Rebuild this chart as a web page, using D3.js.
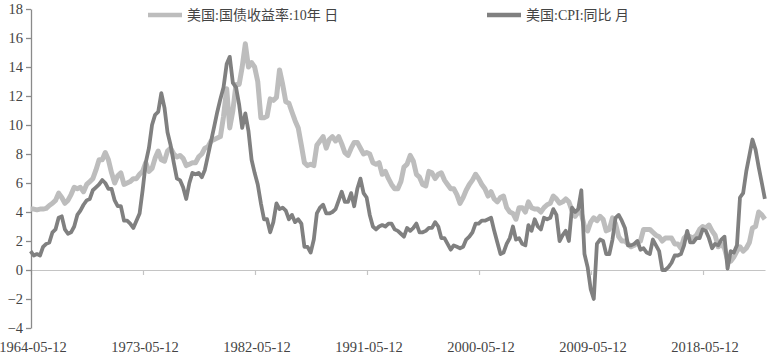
<!DOCTYPE html>
<html><head><meta charset="utf-8">
<script src="https://cdn.jsdelivr.net/npm/d3@7"></script>
<style>
html,body{margin:0;padding:0;background:#fff;}
svg{display:block;}
text{font-family:"Liberation Serif","Noto Sans CJK SC",serif;}
</style></head>
<body><svg id="c" width="776" height="357"></svg>
<script>
// ---- data ----
const seriesNames = ["美国:国债收益率:10年 日", "美国:CPI:同比 月"];
const startQuarter = "1964-05"; // quarterly observations (Feb/May/Aug/Nov)
const xTickLabels = ["1964-05-12","1973-05-12","1982-05-12","1991-05-12","2000-05-12","2009-05-12","2018-05-12"];
const yTicks = [-4,-2,0,2,4,6,8,10,12,14,16,18];

const yield10y = [
 4.2,4.2,4.15,
 4.2,4.2,4.25,4.45, 4.6,4.8,5.3,5.0, 4.6,4.8,5.2,5.7, 5.6,5.7,5.4,5.9,
 6.1,6.3,6.9,7.6, 7.6,8.1,7.6,6.7, 6.0,6.5,6.7,5.9, 6.0,6.1,6.3,6.3,
 6.6,6.8,7.4,6.8, 7.0,7.7,8.2,7.6, 7.5,8.2,8.4,8.0, 7.8,7.9,7.7,7.2,
 7.3,7.4,7.4,7.8, 8.0,8.4,8.5,8.9, 9.0,9.1,9.2,10.6, 12.5,9.8,11.0,12.8,
 12.8,14.0,15.6,14.0, 14.3,14.0,13.0,10.5, 10.5,10.6,11.8,11.7, 11.9,13.8,12.8,11.6,
 11.5,10.9,10.3,9.8, 8.6,7.4,7.2,7.3, 7.2,8.6,8.9,9.2, 8.4,9.0,9.2,8.9,
 9.2,8.7,8.1,7.9, 8.4,8.8,8.8,8.4, 8.0,8.1,8.0,7.4, 7.3,7.4,6.6,6.8,
 6.3,5.9,5.6,5.6, 6.1,7.1,7.3,7.9, 7.5,6.6,6.4,5.9, 5.8,6.8,6.7,6.3,
 6.6,6.7,6.2,5.9, 5.6,5.6,5.2,4.6, 5.0,5.5,5.9,6.2, 6.6,6.3,5.9,5.6,
 5.1,5.4,4.9,4.7, 5.0,5.1,4.3,4.0, 3.9,3.5,4.3,4.3, 4.0,4.7,4.3,4.2,
 4.2,4.0,4.3,4.5, 4.6,5.1,4.9,4.6, 4.7,4.9,4.7,4.1, 3.7,4.0,3.9,3.0,
 2.7,3.3,3.6,3.4, 3.7,3.5,2.7,2.8, 3.6,3.2,2.3,2.0, 2.0,1.8,1.6,1.7,
 1.9,2.0,2.8,2.8, 2.8,2.6,2.4,2.3, 2.0,2.2,2.2,2.2, 1.8,1.8,1.5,2.2,
 2.4,2.3,2.2,2.4, 2.8,3.0,2.9,3.1, 2.7,2.4,1.6,1.8, 1.5,0.7,0.6,0.9,
 1.3,1.6,1.3,1.5, 1.9,2.9,3.0,4.0,
 3.8,3.5
];

const cpiYoY = [
 1.3,1.0,1.1,
 1.0,1.6,1.8,1.9, 2.6,2.8,3.6,3.7, 2.8,2.5,2.6,3.0, 3.8,4.1,4.5,4.8,
 4.9,5.5,5.7,5.9, 6.2,6.0,5.6,5.6, 4.8,4.4,4.4,3.4, 3.4,3.2,2.9,3.4,
 3.9,5.5,7.4,8.4, 10.0,10.7,10.9,12.2, 11.2,9.5,8.6,7.4, 6.3,6.2,5.7,4.9,
 6.0,6.7,6.6,6.7, 6.4,6.9,7.9,8.9, 9.9,10.9,11.8,12.6, 14.2,14.7,12.9,12.6,
 11.4,9.8,10.8,9.6, 7.6,6.7,5.9,4.6, 3.5,3.5,2.6,3.3, 4.6,4.2,4.3,4.1,
 3.5,3.8,3.3,3.5, 3.2,1.6,1.6,1.2, 2.1,3.9,4.3,4.5, 3.9,3.9,4.0,4.2,
 4.8,5.4,4.7,4.7, 5.3,4.4,5.6,6.3, 5.3,5.0,3.8,3.0, 2.8,3.0,3.1,3.0,
 3.2,3.2,2.8,2.7, 2.5,2.3,2.9,2.7, 2.9,3.2,2.6,2.6, 2.7,2.9,2.9,3.3,
 3.0,2.2,2.2,1.8, 1.4,1.7,1.6,1.5, 1.6,2.1,2.3,2.6, 3.2,3.2,3.4,3.4,
 3.5,3.6,2.7,1.9, 1.1,1.2,1.8,2.2, 3.0,2.1,2.2,1.8, 1.7,3.1,2.7,3.5,
 3.0,2.8,3.6,3.5, 3.6,4.2,3.8,2.0, 2.4,2.7,2.0,4.3, 4.0,4.2,5.5,1.1,
 0.2,-1.3,-2.0,1.8, 2.1,2.0,1.1,1.1, 2.1,3.6,3.8,3.4, 2.9,1.7,1.7,1.8,
 2.0,1.4,1.5,1.2, 1.1,2.1,1.7,1.3, 0.0,0.0,0.2,0.5, 1.0,1.0,1.1,1.7,
 2.7,1.9,1.9,2.2, 2.2,2.8,2.7,2.2, 1.5,1.8,1.7,2.1, 2.3,0.1,1.3,1.2,
 1.7,5.0,5.3,6.8, 7.9,9.0,8.3,7.1,
 6.0,4.9
];

// ---- chart ----
const svg = d3.select("#c");
const margin = {left:31, right:11, top:9, bottom:29};
const W = 776, H = 357;
const parseDay = d3.timeParse("%Y-%m-%d");
const parseMon = d3.timeParse("%Y-%m");
const qStart = parseMon(startQuarter);
const dates = yield10y.map((_, i) => d3.timeMonth.offset(qStart, 3*i));

const x = d3.scaleTime()
  .domain([parseDay("1964-05-12"), parseDay("2023-05-05")])
  .range([margin.left, W - margin.right]);
const y = d3.scaleLinear().domain([-4, 18]).range([H - margin.bottom, margin.top]);

// x axis (on zero line)
const xAxis = d3.axisBottom(x)
  .tickValues(xTickLabels.map(parseDay))
  .tickFormat(d3.timeFormat("%Y-%m-%d"))
  .tickSizeInner(5).tickSizeOuter(0);
const gx = svg.append("g").attr("transform", `translate(0,${y(0)})`).call(xAxis);
gx.select(".domain").attr("stroke", "#c4c4c4").attr("stroke-width", 1.2);
gx.selectAll(".tick line").attr("stroke", "#c4c4c4").attr("stroke-width", 1.2);
gx.selectAll(".tick text").remove();
// x labels at the bottom
svg.append("g").selectAll("text").data(xTickLabels).join("text")
  .attr("x", d => x(parseDay(d)) + 2)
  .attr("y", H - 5)
  .attr("text-anchor", "middle")
  .attr("font-size", 14.5)
  .attr("fill", "#444")
  .text(d => d);

// y axis
const yAxis = d3.axisLeft(y).tickValues(yTicks).tickFormat(d3.format("d"))
  .tickSizeInner(5).tickSizeOuter(0).tickPadding(3);
const gy = svg.append("g").attr("transform", `translate(${margin.left},0)`).call(yAxis);
gy.select(".domain").attr("stroke", "#8a8a8a").attr("stroke-width", 1.3);
gy.selectAll(".tick line").attr("stroke", "#8a8a8a").attr("stroke-width", 1.3);
gy.selectAll(".tick text").attr("font-size", 14.5).attr("fill", "#444")
  .attr("font-family", "Liberation Serif");

// lines
const line = d3.line().x((d, i) => x(dates[i])).y(d => y(d));
svg.append("path").datum(yield10y)
  .attr("fill", "none").attr("stroke", "#bdbdbd").attr("stroke-width", 5)
  .attr("stroke-linejoin", "round").attr("d", line);
svg.append("path").datum(cpiYoY)
  .attr("fill", "none").attr("stroke", "#808080").attr("stroke-width", 3.8)
  .attr("stroke-linejoin", "round").attr("d", line);

// legend
const legend = [
  {name: seriesNames[0], color: "#bdbdbd", x0: 148},
  {name: seriesNames[1], color: "#808080", x0: 487}
];
const lg = svg.append("g").selectAll("g").data(legend).join("g")
  .attr("transform", d => `translate(${d.x0},15)`);
lg.append("line").attr("x1", 0).attr("x2", 34).attr("y1", 0).attr("y2", 0)
  .attr("stroke", d => d.color).attr("stroke-width", 4.5);
lg.append("text").attr("x", 39).attr("y", 5).attr("font-size", 14)
  .attr("fill", "#444").text(d => d.name);
</script></body></html>
